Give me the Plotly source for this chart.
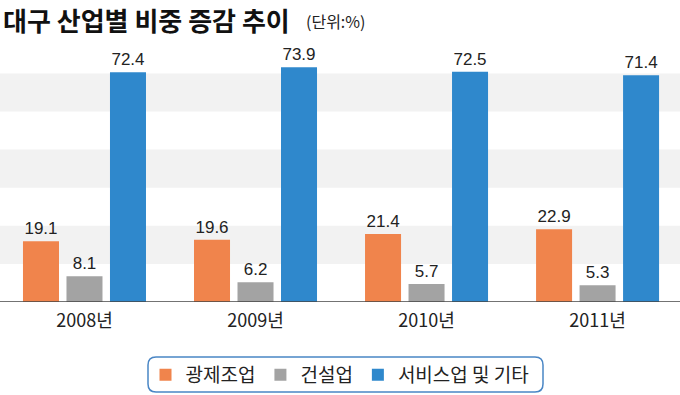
import plotly.graph_objects as go

years = ["2008년", "2009년", "2010년", "2011년"]
series_names = ["광제조업", "건설업", "서비스업 및 기타"]
manufacturing = [19.1, 19.6, 21.4, 22.9]
construction = [8.1, 6.2, 5.7, 5.3]
services = [72.4, 73.9, 72.5, 71.4]
colors = ["#F0844C", "#A3A3A3", "#2F88CC"]
band_ranges = [(12, 24), (36, 48), (60, 72)]

FONT = "Noto Sans CJK KR"

fig = go.Figure()
for name, vals, col in zip(series_names, [manufacturing, construction, services], colors):
    fig.add_trace(go.Bar(
        x=years, y=vals, name=name, marker=dict(color=col, line=dict(width=0)),
        text=[f"{v:.1f}" for v in vals], textposition="outside",
        textfont=dict(size=17, color="#222222", family="Liberation Sans"),
        cliponaxis=False,
    ))

for lo, hi in band_ranges:
    fig.add_shape(type="rect", xref="paper", yref="y", x0=0, x1=1, y0=lo, y1=hi,
                  fillcolor="#F2F2F2", line=dict(width=0), layer="below")

fig.add_shape(type="line", xref="paper", yref="y", x0=0, x1=1, y0=0, y1=0,
              line=dict(color="#444444", width=1.5))

W, H = 680, 395
ml, mr, mt, mb = 0, 0, 48, 93
pw, ph = W - ml - mr, H - mt - mb
def px(x):
    return (x - ml) / pw
def py(y):
    return (H - mb - y) / ph

x0, x1, y0, y1, r = 148, 543, 357, 392, 8
path = (f"M {px(x0+r)},{py(y0)} L {px(x1-r)},{py(y0)} Q {px(x1)},{py(y0)} {px(x1)},{py(y0+r)} "
        f"L {px(x1)},{py(y1-r)} Q {px(x1)},{py(y1)} {px(x1-r)},{py(y1)} "
        f"L {px(x0+r)},{py(y1)} Q {px(x0)},{py(y1)} {px(x0)},{py(y1-r)} "
        f"L {px(x0)},{py(y0+r)} Q {px(x0)},{py(y0)} {px(x0+r)},{py(y0)} Z")
fig.add_shape(type="path", xref="paper", yref="paper", path=path,
              line=dict(color="#4A86C5", width=1.5), fillcolor="rgba(0,0,0,0)")

fig.add_annotation(text="<b>대구 산업별 비중 증감 추이</b>", xref="paper", yref="paper",
                   x=px(1), y=py(20), xanchor="left", yanchor="middle", showarrow=False,
                   font=dict(size=26, color="#111111", family=FONT))
fig.add_annotation(text="(단위:%)", xref="paper", yref="paper",
                   x=px(304), y=py(21), xanchor="left", yanchor="middle", showarrow=False,
                   font=dict(size=16, color="#222222", family=FONT))

fig.update_layout(
    width=W, height=H, margin=dict(l=ml, r=mr, t=mt, b=mb, autoexpand=False),
    plot_bgcolor="white", paper_bgcolor="white",
    barmode="group", bargap=0.237, bargroupgap=0.172,
    showlegend=True,
    legend=dict(orientation="h", x=0.5, xanchor="center", y=py(375), yanchor="middle",
                font=dict(size=19, color="#222222", family=FONT),
                traceorder="normal", bgcolor="rgba(0,0,0,0)", itemsizing="constant"),
    xaxis=dict(range=[-0.494, 3.482], showgrid=False, showline=False, ticks="",
               ticklabelstandoff=6,
               tickfont=dict(size=18, color="#222222", family=FONT), fixedrange=True),
    yaxis=dict(range=[0, 80], visible=False, showgrid=False, zeroline=False, fixedrange=True),
    font=dict(family=FONT),
)

fig.write_html("out.html", config={"displayModeBar": False},
               post_script="document.body.style.margin='0';document.body.style.overflow='hidden';")
